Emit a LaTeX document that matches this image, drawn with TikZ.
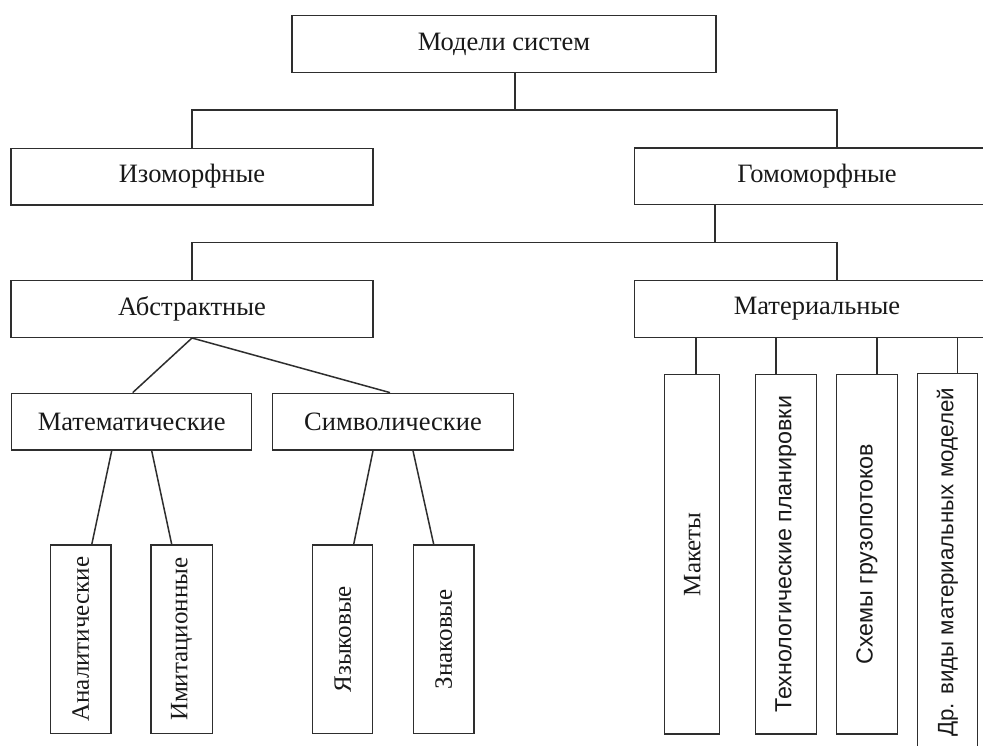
\documentclass[tikz,border=0pt]{standalone}
\usepackage{fontspec}
\setmainfont{Liberation Serif}
\newfontfamily\sansf{Liberation Sans}
\definecolor{ink}{HTML}{2E2E2E}
\begin{document}
\begin{tikzpicture}[x=1pt,y=-1pt,
  box/.style={draw=ink, line width=1.5pt, rectangle, inner sep=0pt, text=black!90,
    font=\fontsize{26.5}{32}\selectfont},
  hbox/.style={box, minimum height=56.7pt},
  vbox/.style={box, font=\fontsize{25}{30}\selectfont},
  sbox/.style={box, font=\sansf\fontsize{23.3}{28}\selectfont},
  conn/.style={draw=ink, line width=1.5pt}]
\useasboundingbox (0,0) rectangle (983,745);
\clip (0,0) rectangle (983,745);
\fill[white] (0,0) rectangle (983,745);

% level 0-2
\node[hbox, minimum width=424pt, minimum height=57pt] (top) at (504,44.2) {Модели систем};
\node[hbox, minimum width=362pt] (izo) at (192,176.6) {Изоморфные};
\node[hbox, minimum width=365pt] (gomo) at (817,176.3) {Гомоморфные};
\node[hbox, minimum width=362pt] (abs) at (192,308.9) {Абстрактные};
\node[hbox, minimum width=365pt] (mat) at (817,308.9) {Материальные};
\node[hbox, minimum width=240pt] (math) at (131.7,421.7) {Математические};
\node[hbox, minimum width=240.6pt] (sym) at (393,421.7) {Символические};

% left vertical boxes
\node[vbox, minimum width=60.3pt, minimum height=188.3pt] (anal) at (80.8,639.2) {\rotatebox{90}{Аналитические}};
\node[vbox, minimum width=61.3pt, minimum height=188.3pt] (imit) at (181.7,639.2) {\rotatebox{90}{Имитационные}};
\node[vbox, minimum width=60pt, minimum height=188.3pt] (yaz) at (342.7,639.2) {\rotatebox{90}{Языковые}};
\node[vbox, minimum width=60.7pt, minimum height=188.3pt] (znak) at (443.7,639.2) {\rotatebox{90}{Знаковые}};

% right vertical boxes
\node[vbox, minimum width=55pt, minimum height=359.5pt] (mak) at (692.2,554.2) {\rotatebox{90}{Макеты}};
\node[sbox, minimum width=61pt, minimum height=359.5pt] (tech) at (785.8,554.2) {\rotatebox{90}{Технологические планировки}};
\node[sbox, minimum width=61pt, minimum height=359.5pt] (skh) at (866.8,554.2) {\rotatebox{90}{Схемы грузопотоков}};
\node[sbox, minimum width=60pt, minimum height=377.5pt, font=\sansf\fontsize{22.3}{27}\selectfont] (dr) at (947.3,562.3) {\rotatebox{90}{Др. виды материальных моделей}};

% connectors
\coordinate (j1) at (515,110);
\coordinate (j2) at (715,242.7);
\draw[conn] (top.south -| j1) -- (j1);
\draw[conn] (izo.north) |- (j1) -| ([xshift=20pt]gomo.north);
\draw[conn] (gomo.south -| j2) -- (j2);
\draw[conn] (abs.north) |- (j2) -| ([xshift=20pt]mat.north);

\draw[conn] (abs.south) -- ([xshift=1pt]math.north);
\draw[conn] (abs.south) -- ([xshift=-3pt]sym.north);

\draw[conn] ([xshift=-20pt]math.south) -- ([xshift=11pt]anal.north);
\draw[conn] ([xshift=20pt]math.south) -- ([xshift=-10pt]imit.north);
\draw[conn] ([xshift=-20pt]sym.south) -- ([xshift=11pt]yaz.north);
\draw[conn] ([xshift=20pt]sym.south) -- ([xshift=-10pt]znak.north);

\draw[conn] ([xshift=4pt]mak.north) -- ([xshift=4pt]mak.north |- mat.south);
\draw[conn] ([xshift=-10pt]tech.north) -- ([xshift=-10pt]tech.north |- mat.south);
\draw[conn] ([xshift=10pt]skh.north) -- ([xshift=10pt]skh.north |- mat.south);
\draw[conn] ([xshift=10pt]dr.north) -- ([xshift=10pt]dr.north |- mat.south);
\end{tikzpicture}
\end{document}
